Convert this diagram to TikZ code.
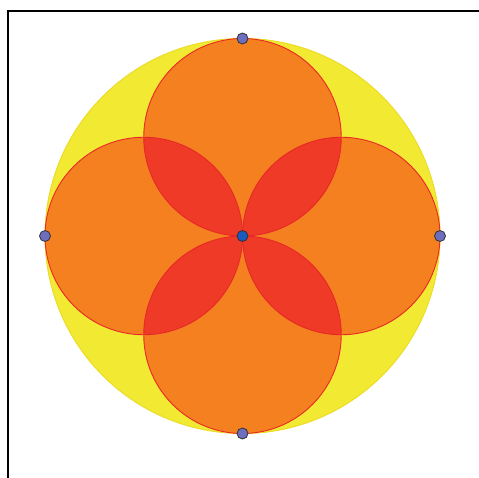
\documentclass[tikz,border=0pt]{standalone}
\begin{document}
\begin{tikzpicture}[x=1pt,y=-1pt,
  bigc/.style={fill=yel,draw=yelS,line width=1pt},
  smallc/.style={fill=org},
  ring/.style={draw=redS,line width=0.9pt},
  pt/.style={circle,draw=black!80,line width=0.8pt,inner sep=0pt,minimum size=11pt,fill=ptc},
  cpt/.style={circle,draw=black!80,line width=0.8pt,inner sep=0pt,minimum size=11pt,fill=cptc}]
\definecolor{yel}{RGB}{242,233,50}
\definecolor{yelS}{RGB}{236,220,40}
\definecolor{org}{RGB}{244,128,32}
\definecolor{lens}{RGB}{238,58,38}
\definecolor{redS}{RGB}{232,40,40}
\definecolor{ptc}{RGB}{110,110,190}
\definecolor{cptc}{RGB}{25,90,190}
\useasboundingbox (0,0) rectangle (479,478);
\draw[line width=2.3pt] (8,478) -- (8,11) -- (479,11);
\def\R{197.5}
\def\r{98.75}
\coordinate (O) at (242.5,236);
\coordinate (T) at (242.5,137.25);
\coordinate (B) at (242.5,334.75);
\coordinate (L) at (143.75,236);
\coordinate (Rt) at (341.25,236);
\fill[bigc] (O) circle (\R);
\foreach \c in {T,B,L,Rt}{\fill[smallc] (\c) circle (\r);}
\foreach \a/\b in {T/L,T/Rt,B/L,B/Rt}{
  \begin{scope}
    \clip (\a) circle (\r);
    \fill[lens] (\b) circle (\r);
  \end{scope}}
\foreach \c in {T,B,L,Rt}{\draw[ring] (\c) circle (\r);}
\node[pt] (p1) at (242.5,38.5) {};
\node[pt] (p2) at (45,236) {};
\node[pt] (p3) at (440,236) {};
\node[pt] (p4) at (242.5,433.5) {};
\node[cpt] (pc) at (O) {};
\end{tikzpicture}
\end{document}
